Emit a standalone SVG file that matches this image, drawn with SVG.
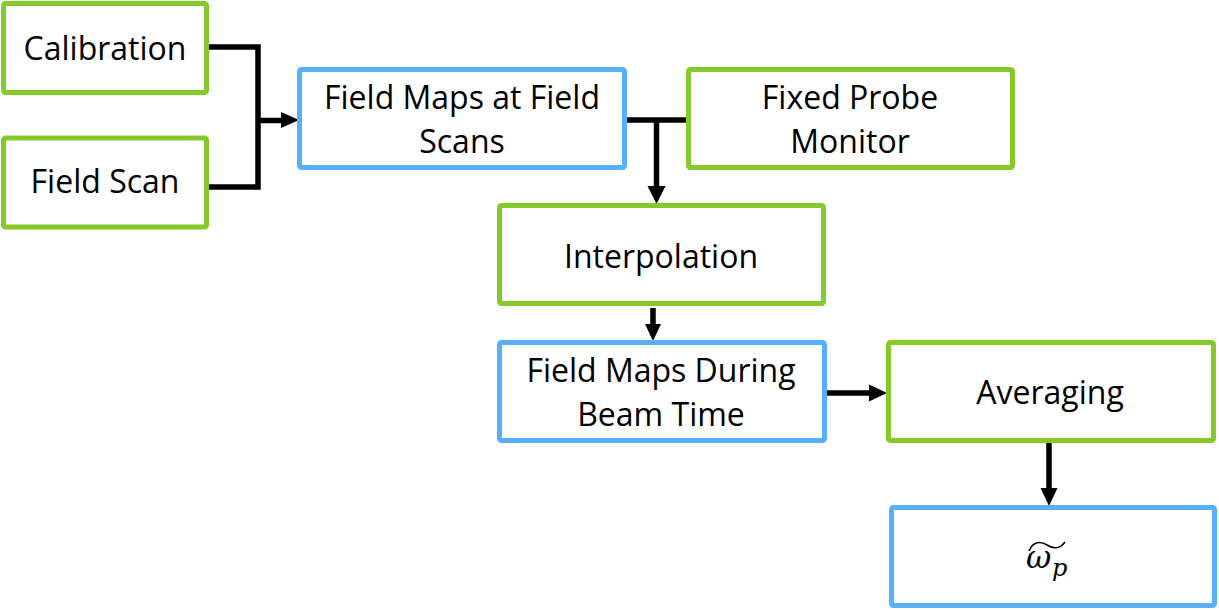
<svg xmlns="http://www.w3.org/2000/svg" width="1219" height="610" viewBox="0 0 1219 610">
<style>
.g{fill:#fff;stroke:#86C92A;stroke-width:5}
.b{fill:#fff;stroke:#58B0FB;stroke-width:5}
.t{font-family:"Open Sans",sans-serif;font-size:32px;fill:#000;text-anchor:middle}
.c{fill:none;stroke:#000;stroke-width:5.5}
</style>
<g id="connectors">
<path class="c" d="M207,47 H258 V187 H207"/>
<path class="c" d="M258,120.5 H281" />
<path d="M281,112 L299,120 L281,128 Z"/>
<path class="c" d="M625,120 H687"/>
<path class="c" d="M656.5,120 V187"/>
<path d="M647.5,186 L656.5,204 L665.5,186 Z"/>
<path class="c" d="M653,308 V325"/>
<path d="M645,324 L653,341 L661,324 Z"/>
<path class="c" d="M824,393 H870"/>
<path d="M869,384.5 L887,393 L869,401.5 Z"/>
<path class="c" d="M1049,441 V489"/>
<path d="M1040.5,488 L1049,506 L1057.5,488 Z"/>
</g>
<g id="calibration"><rect class="g" x="3.5" y="3.5" width="203" height="89" rx="2"/><text class="t" x="105" y="60">Calibration</text></g>
<g id="fieldscan"><rect class="g" x="3.5" y="138" width="203" height="89" rx="2"/><text class="t" x="105" y="193">Field Scan</text></g>
<g id="fieldmaps"><rect class="b" x="299.5" y="69.5" width="325" height="98" rx="2"/><text class="t" x="462" y="109">Field Maps at Field</text><text class="t" x="462" y="153">Scans</text></g>
<g id="fixedprobe"><rect class="g" x="688.5" y="69.5" width="324" height="98" rx="2"/><text class="t" x="850" y="109">Fixed Probe</text><text class="t" x="850" y="153">Monitor</text></g>
<g id="interpolation"><rect class="g" x="499.5" y="205.5" width="324" height="98" rx="2"/><text class="t" x="661" y="268">Interpolation</text></g>
<g id="fieldmapsbeam"><rect class="b" x="499.5" y="342.5" width="325" height="98" rx="2"/><text class="t" x="661" y="382">Field Maps During</text><text class="t" x="661" y="426">Beam Time</text></g>
<g id="averaging"><rect class="g" x="888.5" y="342.5" width="325" height="98" rx="2"/><text class="t" x="1050" y="404">Averaging</text></g>
<g id="omega"><rect class="b" x="891.5" y="507.5" width="323" height="98" rx="2"/>
<text x="1026" y="568" font-family="'DejaVu Serif','Liberation Serif',serif" font-style="italic" font-size="31">ω</text>
<text x="1052" y="576" font-family="'DejaVu Serif','Liberation Serif',serif" font-style="italic" font-size="24">p</text>
<path d="M1029,551 C1033,541 1041,541 1047,545 C1053,549 1060,549 1065,542" fill="none" stroke="#000" stroke-width="1.6"/>
</g>
</svg>
